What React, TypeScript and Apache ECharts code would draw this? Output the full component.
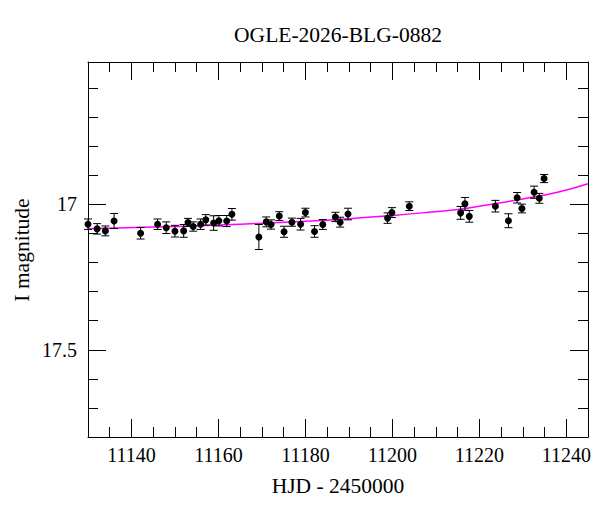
import React, { useEffect, useRef } from 'react';
import * as echarts from 'echarts';

// Observed photometry (HJD - 2450000, I magnitude, error)
const days = [
  11130.0, 11132.1, 11134.0, 11136.0, 11142.1, 11146.0, 11148.0, 11150.0, 11152.0,
  11153.0, 11154.2, 11155.9, 11157.1, 11158.9, 11160.1, 11161.9, 11163.1, 11169.3,
  11171.0, 11172.1, 11174.0, 11175.1, 11176.9, 11178.9, 11180.0, 11182.1, 11184.0,
  11186.9, 11188.0, 11189.8, 11198.9, 11199.9, 11203.9, 11215.7, 11216.7, 11217.7,
  11223.7, 11226.7, 11228.7, 11229.8, 11232.6, 11233.8, 11234.9,
];
const mags = [
  17.068, 17.084, 17.091, 17.057, 17.099, 17.068, 17.080, 17.092, 17.091,
  17.062, 17.076, 17.068, 17.053, 17.064, 17.056, 17.057, 17.034, 17.112,
  17.060, 17.069, 17.040, 17.094, 17.061, 17.068, 17.028, 17.093, 17.069,
  17.043, 17.061, 17.033, 17.047, 17.028, 17.006, 17.029, 16.998, 17.041,
  17.006, 17.056, 16.977, 17.014, 16.958, 16.979, 16.911,
];
const errs = [
  0.018, 0.018, 0.017, 0.026, 0.020, 0.018, 0.020, 0.020, 0.022,
  0.014, 0.016, 0.018, 0.018, 0.025, 0.018, 0.019, 0.020, 0.043,
  0.017, 0.016, 0.015, 0.019, 0.014, 0.020, 0.015, 0.020, 0.017,
  0.016, 0.017, 0.020, 0.018, 0.017, 0.015, 0.022, 0.022, 0.020,
  0.020, 0.024, 0.018, 0.015, 0.021, 0.017, 0.014,
];

// Model curve samples
const modelDays = [11130, 11145, 11160, 11170, 11180, 11190, 11200, 11207, 11215, 11222.5, 11230, 11238, 11245];
const modelMags = [17.084, 17.078, 17.071, 17.065, 17.058, 17.049, 17.038, 17.029, 17.017, 17.0, 16.981, 16.958, 16.929];

const xRange = [11130, 11245];
const yRange = [16.51, 17.8];
const xMajor = 20;
const xMinor = 5;
const yMajor = 0.5;
const yMinor = 0.1;

const titleText = 'OGLE-2026-BLG-0882';
const xName = 'HJD - 2450000';
const yName = 'I magnitude';

const FONT = 'Liberation Serif';
const FS = 20;
const FS_NAME = 21.5;

const isMult = (v: number, step: number) => {
  const r = v / step;
  return Math.abs(r - Math.round(r)) < 1e-6;
};

function makeX(position: string, step: number, len: number, labels: boolean, line: boolean) {
  return {
    type: 'value',
    position,
    min: xRange[0],
    max: xRange[1],
    minInterval: step,
    maxInterval: step,
    splitNumber: Math.round((xRange[1] - xRange[0]) / step),
    axisLine: { show: line, onZero: false, lineStyle: { color: '#000', width: 1 } },
    axisTick: { show: true, inside: true, length: len, lineStyle: { color: '#000', width: 1 } },
    axisLabel: {
      show: labels,
      margin: 8,
      color: '#000',
      fontFamily: FONT,
      fontSize: FS,
      formatter: (v: number) => (isMult(v, xMajor) ? String(Math.round(v)) : ''),
    },
    splitLine: { show: false },
  };
}

function makeY(position: string, step: number, len: number, labels: boolean, line: boolean) {
  return {
    type: 'value',
    position,
    inverse: true,
    min: yRange[0],
    max: yRange[1],
    minInterval: step,
    maxInterval: step,
    splitNumber: Math.round((yRange[1] - yRange[0]) / step),
    axisLine: { show: line, onZero: false, lineStyle: { color: '#000', width: 1 } },
    axisTick: { show: true, inside: true, length: len, lineStyle: { color: '#000', width: 1 } },
    axisLabel: {
      show: labels,
      margin: 11,
      color: '#000',
      fontFamily: FONT,
      fontSize: FS,
      formatter: (v: number) => (isMult(v, yMajor) ? String(parseFloat(v.toFixed(2))) : ''),
    },
    splitLine: { show: false },
  };
}

export default function App() {
  const ref = useRef<HTMLDivElement>(null);

  useEffect(() => {
    if (!ref.current) return;
    const chart = echarts.init(ref.current, undefined, { renderer: 'svg' });

    const errData = days.map((d, i) => [d, mags[i] - errs[i], mags[i] + errs[i]]);
    const ptData = days.map((d, i) => [d, mags[i]]);
    const modelData = modelDays.map((d, i) => [d, modelMags[i]]);

    chart.setOption({
      animation: false,
      backgroundColor: '#fff',
      grid: { left: 88, top: 62, width: 500, height: 375, containLabel: false },
      xAxis: [
        makeX('bottom', xMajor, 18, true, true),
        makeX('bottom', xMinor, 10, false, false),
        makeX('top', xMajor, 18, false, true),
        makeX('top', xMinor, 10, false, false),
      ],
      yAxis: [
        makeY('left', yMajor, 18, true, true),
        makeY('left', yMinor, 10, false, false),
        makeY('right', yMajor, 18, false, true),
        makeY('right', yMinor, 10, false, false),
      ],
      graphic: [
        {
          type: 'text',
          x: 338,
          y: 35,
          style: {
            text: titleText,
            fontFamily: FONT,
            fontSize: FS_NAME,
            fill: '#000',
            textAlign: 'center',
            textVerticalAlign: 'middle',
          },
        },
        {
          type: 'text',
          x: 338,
          y: 486,
          style: {
            text: xName,
            fontFamily: FONT,
            fontSize: FS_NAME,
            fill: '#000',
            textAlign: 'center',
            textVerticalAlign: 'middle',
          },
        },
        {
          type: 'text',
          x: 22,
          y: 250,
          rotation: Math.PI / 2,
          style: {
            text: yName,
            fontFamily: FONT,
            fontSize: FS_NAME,
            fill: '#000',
            textAlign: 'center',
            textVerticalAlign: 'middle',
          },
        },
      ],
      series: [
        {
          type: 'line',
          data: modelData,
          xAxisIndex: 0,
          yAxisIndex: 0,
          smooth: true,
          showSymbol: false,
          symbol: 'none',
          lineStyle: { color: '#ff00ff', width: 1.5 },
          z: 2,
        },
        {
          type: 'custom',
          xAxisIndex: 0,
          yAxisIndex: 0,
          data: errData,
          encode: { x: 0, y: [1, 2] },
          z: 3,
          renderItem: (params: any, api: any) => {
            const x = api.value(0);
            const p1 = api.coord([x, api.value(1)]);
            const p2 = api.coord([x, api.value(2)]);
            const w = 4;
            const st = { stroke: '#000', lineWidth: 1 };
            return {
              type: 'group',
              children: [
                { type: 'line', shape: { x1: p1[0], y1: p1[1], x2: p2[0], y2: p2[1] }, style: st },
                { type: 'line', shape: { x1: p1[0] - w, y1: p1[1], x2: p1[0] + w, y2: p1[1] }, style: st },
                { type: 'line', shape: { x1: p2[0] - w, y1: p2[1], x2: p2[0] + w, y2: p2[1] }, style: st },
              ],
            };
          },
        },
        {
          type: 'scatter',
          xAxisIndex: 0,
          yAxisIndex: 0,
          data: ptData,
          symbol: 'circle',
          symbolSize: 7,
          itemStyle: { color: '#000', opacity: 1 },
          z: 4,
        },
      ],
    });

    return () => chart.dispose();
  }, []);

  return (
    <div
      ref={ref}
      style={{ position: 'absolute', left: 0, top: 0, width: 600, height: 512, background: '#fff' }}
    />
  );
}
